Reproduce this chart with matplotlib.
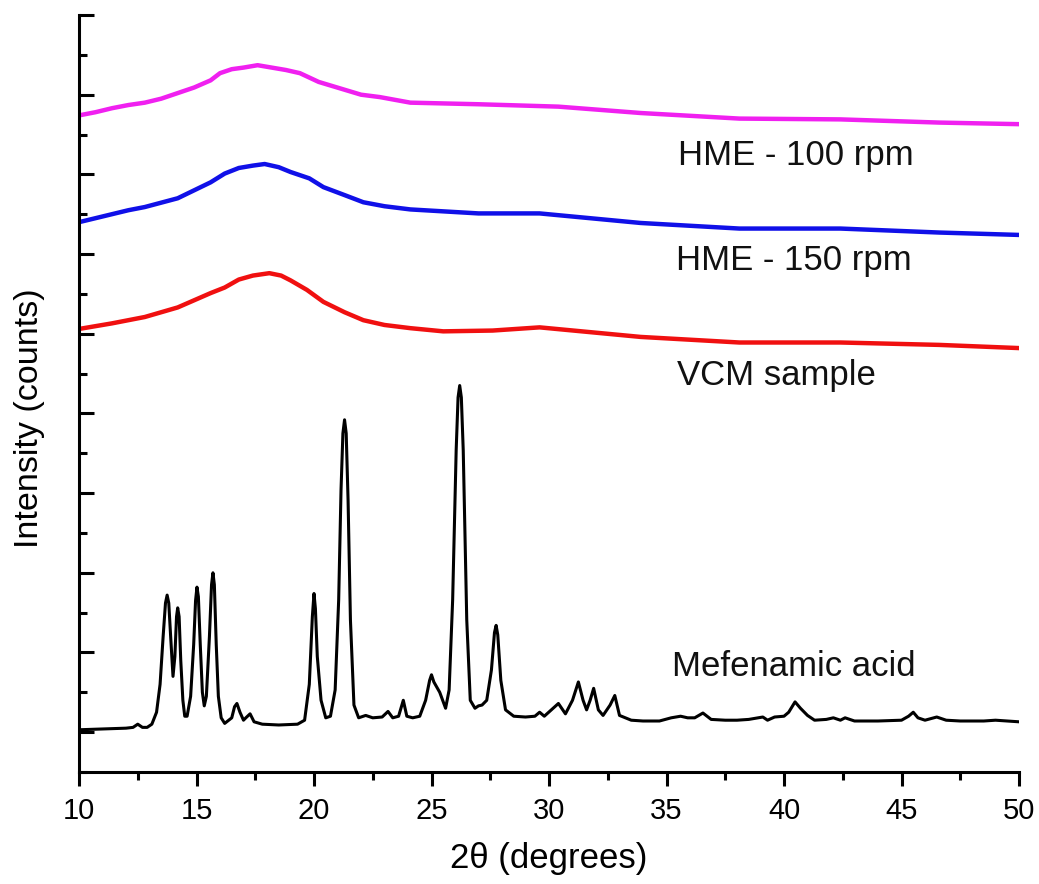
import matplotlib
matplotlib.use("Agg")
import matplotlib.pyplot as plt
from matplotlib.ticker import MultipleLocator

plt.rcParams['font.family'] = ['Liberation Sans', 'DejaVu Sans']

# ---- data (arbitrary intensity units) ----
mef_x = [10.0, 11.0, 12.0, 12.3, 12.5, 12.7, 12.9, 13.1, 13.3, 13.45, 13.58, 13.68, 13.75, 13.82, 13.9,
         14.0, 14.08, 14.15, 14.2, 14.26, 14.33, 14.42, 14.5, 14.6, 14.75, 14.88, 14.96, 15.02, 15.08,
         15.16, 15.25, 15.33, 15.42, 15.55, 15.64, 15.7, 15.76, 15.84, 15.93, 16.05, 16.2, 16.5, 16.62,
         16.72, 16.85, 17.0, 17.1, 17.28, 17.45, 17.8, 18.5, 19.3, 19.6, 19.8, 19.93, 20.0, 20.06,
         20.14, 20.3, 20.5, 20.7, 20.9, 21.05, 21.15, 21.23, 21.3, 21.37, 21.45, 21.55, 21.7, 21.9,
         22.2, 22.5, 22.9, 23.15, 23.35, 23.6, 23.8, 23.95, 24.2, 24.5, 24.75, 24.92, 25.0, 25.1, 25.35,
         25.6, 25.75, 25.9, 26.05, 26.13, 26.2, 26.27, 26.35, 26.5, 26.65, 26.85, 27.0, 27.15, 27.35,
         27.55, 27.68, 27.75, 27.82, 27.95, 28.15, 28.5, 29.0, 29.4, 29.6, 29.8, 30.1, 30.4, 30.7, 31.0,
         31.25, 31.45, 31.6, 31.75, 31.9, 32.1, 32.3, 32.6, 32.8, 33.0, 33.5, 34.0, 34.7, 35.2, 35.6,
         35.9, 36.2, 36.55, 36.9, 37.5, 38.0, 38.5, 39.1, 39.3, 39.6, 40.0, 40.2, 40.47, 40.7, 41.0,
         41.3, 41.8, 42.1, 42.4, 42.6, 43.0, 44.0, 45.0, 45.3, 45.5, 45.7, 46.0, 46.5, 46.9, 47.5, 48.5,
         49.0, 49.5, 50.0]
mef_y = [0.03, 0.04, 0.05, 0.06, 0.10, 0.06, 0.06, 0.10, 0.25, 0.60, 1.20, 1.62, 1.72, 1.62, 1.20,
         0.70, 0.95, 1.45, 1.56, 1.45, 0.90, 0.40, 0.20, 0.20, 0.45, 1.10, 1.65, 1.82, 1.70,
         1.10, 0.50, 0.33, 0.45, 1.20, 1.85, 2.00, 1.85, 1.10, 0.45, 0.18, 0.11, 0.18, 0.32,
         0.36, 0.25, 0.15, 0.18, 0.23, 0.13, 0.10, 0.09, 0.10, 0.15, 0.60, 1.45, 1.74, 1.55,
         0.95, 0.40, 0.18, 0.20, 0.53, 1.66, 3.04, 3.75, 3.92, 3.75, 2.91, 1.41, 0.34, 0.18,
         0.21, 0.18, 0.19, 0.26, 0.18, 0.20, 0.40, 0.20, 0.18, 0.20, 0.40, 0.65, 0.72, 0.63, 0.50,
         0.30, 0.53, 1.66, 3.54, 4.20, 4.35, 4.20, 3.54, 1.41, 0.40, 0.30, 0.33, 0.34, 0.40,
         0.78, 1.25, 1.34, 1.22, 0.65, 0.28, 0.20, 0.19, 0.20, 0.25, 0.20, 0.28, 0.36, 0.23, 0.40,
         0.63, 0.40, 0.28, 0.40, 0.55, 0.28, 0.21, 0.34, 0.46, 0.21, 0.15, 0.14, 0.14, 0.18, 0.20,
         0.18, 0.18, 0.24, 0.16, 0.15, 0.15, 0.16, 0.19, 0.15, 0.19, 0.20, 0.25, 0.38, 0.30, 0.21,
         0.15, 0.16, 0.18, 0.15, 0.18, 0.14, 0.14, 0.15, 0.20, 0.25, 0.18, 0.15, 0.19, 0.15, 0.14, 0.14,
         0.15, 0.14, 0.13]

vcm_x = [10.0, 11.4, 12.8, 14.2, 14.9, 15.6, 16.2, 16.8, 17.4, 18.1, 18.6, 19.0, 19.7, 20.4, 21.3,
         22.1, 23.0, 24.1, 25.5, 27.6, 29.6, 33.9, 38.1, 42.4, 46.6, 50.0]
vcm_y = [5.06, 5.13, 5.21, 5.33, 5.42, 5.51, 5.58, 5.68, 5.73, 5.76, 5.73, 5.67, 5.55, 5.40, 5.27,
         5.17, 5.11, 5.07, 5.03, 5.04, 5.08, 4.96, 4.89, 4.89, 4.86, 4.82]

hme150_x = [10.0, 10.7, 12.1, 12.8, 14.2, 14.9, 15.6, 16.2, 16.8, 17.4, 17.9, 18.5, 19.0, 19.8,
            20.4, 21.3, 22.1, 23.0, 24.1, 27.0, 29.6, 33.9, 38.1, 42.4, 46.6, 50.0]
hme150_y = [6.40, 6.45, 6.55, 6.59, 6.70, 6.80, 6.90, 7.01, 7.08, 7.11, 7.13, 7.09, 7.03, 6.95,
            6.84, 6.74, 6.65, 6.60, 6.56, 6.51, 6.51, 6.39, 6.32, 6.32, 6.27, 6.24]

hme100_x = [10.0, 10.7, 11.4, 12.1, 12.8, 13.5, 14.2, 14.9, 15.6, 16.0, 16.5, 17.0, 17.6, 18.2,
            18.8, 19.4, 20.2, 21.1, 22.0, 22.8, 24.1, 27.0, 30.4, 33.9, 38.1, 42.4, 46.6, 50.0]
hme100_y = [7.74, 7.78, 7.83, 7.87, 7.90, 7.95, 8.02, 8.09, 8.18, 8.27, 8.32, 8.34, 8.37, 8.34,
            8.31, 8.27, 8.16, 8.08, 8.00, 7.97, 7.90, 7.88, 7.85, 7.77, 7.70, 7.69, 7.65, 7.63]

labels = ["HME - 100 rpm", "HME - 150 rpm", "VCM sample", "Mefenamic acid"]
label_x = [35.5, 35.4, 35.45, 35.25]
label_y = [7.24, 5.92, 4.48, 0.82]

# ---- figure ----
fig = plt.figure(figsize=(10.39, 8.84), dpi=100)
ax = fig.add_axes([79/1039, 1 - 772/884, (1019 - 79)/1039, (772 - 15)/884])

ax.plot(mef_x, mef_y, color='black', lw=2.2, solid_joinstyle='round')
ax.plot(vcm_x, vcm_y, color='#F01010', lw=3.2, solid_joinstyle='round')
ax.plot(hme150_x, hme150_y, color='#1010E8', lw=3.2, solid_joinstyle='round')
ax.plot(hme100_x, hme100_y, color='#F020F0', lw=3.2, solid_joinstyle='round')

for t, x, y in zip(labels, label_x, label_y):
    ax.text(x, y, t, fontsize=25, ha='left', va='center', color='#111111')

ax.set_xlim(10, 50)
ax.set_ylim(-0.5, 9.0)

ax.spines['top'].set_visible(False)
ax.spines['right'].set_visible(False)
ax.spines['left'].set_linewidth(2.2)
ax.spines['bottom'].set_linewidth(2.2)

ax.xaxis.set_major_locator(MultipleLocator(5))
ax.xaxis.set_minor_locator(MultipleLocator(2.5))
ax.yaxis.set_major_locator(MultipleLocator(1))
ax.yaxis.set_minor_locator(MultipleLocator(0.5))

ax.tick_params(axis='x', which='major', direction='out', length=10, width=2.2, labelsize=21, pad=8)
ax.tick_params(axis='x', which='minor', direction='out', length=6, width=2.2)
ax.tick_params(axis='y', which='major', direction='in', length=11, width=2.2, labelleft=False)
ax.tick_params(axis='y', which='minor', direction='in', length=6, width=2.2)

ax.set_xlabel("2\u03b8 (degrees)", fontsize=25, labelpad=12)
ax.set_ylabel("Intensity (counts)", fontsize=24.5)
ax.yaxis.set_label_coords(-0.036, 0.468)

fig.savefig("out.png", dpi=100)
